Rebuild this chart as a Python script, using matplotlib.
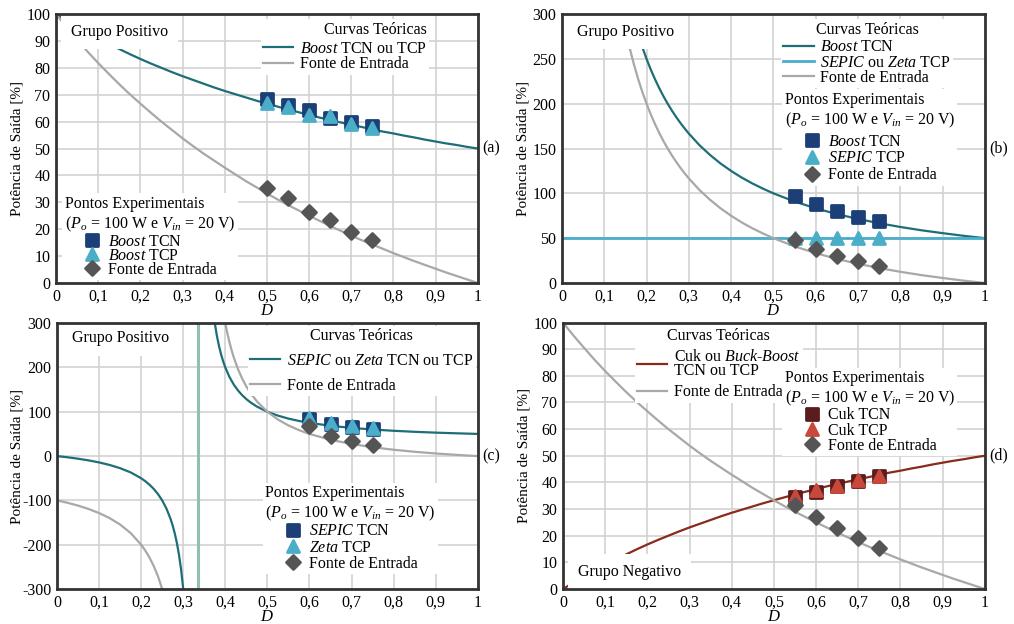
import matplotlib
matplotlib.use('Agg')
import matplotlib.pyplot as plt
from matplotlib.markers import MarkerStyle

plt.rcParams['font.family'] = ['Liberation Serif', 'DejaVu Serif']
plt.rcParams['mathtext.fontset'] = 'custom'
plt.rcParams['mathtext.rm'] = 'Liberation Serif'
plt.rcParams['mathtext.it'] = 'Liberation Serif:italic'
plt.rcParams['axes.unicode_minus'] = False
plt.rcParams['font.size'] = 11

# ---- Data ----
# duty cycle grid for the smooth curves of (a) and (d)
d_grid = [0.0, 0.025, 0.05, 0.075, 0.1, 0.125, 0.15, 0.175, 0.2, 0.225, 0.25,
          0.275, 0.3, 0.325, 0.35, 0.375, 0.4, 0.425, 0.45, 0.475, 0.5,
          0.525, 0.55, 0.575, 0.6, 0.625, 0.65, 0.675, 0.7, 0.725, 0.75,
          0.775, 0.8, 0.825, 0.85, 0.875, 0.9, 0.925, 0.95, 0.975, 1.0]

# (a) Boost
a_teo_boost = [100.0, 97.6, 95.2, 93.0, 90.9, 88.9, 87.0, 85.1, 83.3, 81.6, 80.0,
               78.4, 76.9, 75.5, 74.1, 72.7, 71.4, 70.2, 69.0, 67.8, 66.7,
               65.6, 64.5, 63.5, 62.5, 61.5, 60.6, 59.7, 58.8, 58.0, 57.1,
               56.3, 55.6, 54.8, 54.1, 53.3, 52.6, 51.9, 51.3, 50.6, 50.0]
a_teo_fonte = [100.0, 95.1, 90.5, 86.0, 81.8, 77.8, 73.9, 70.2, 66.7, 63.3, 60.0,
               56.9, 53.8, 50.9, 48.1, 45.5, 42.9, 40.4, 37.9, 35.6, 33.3,
               31.1, 29.0, 27.0, 25.0, 23.1, 21.2, 19.4, 17.6, 15.9, 14.3,
               12.7, 11.1, 9.6, 8.1, 6.7, 5.3, 3.9, 2.6, 1.3, 0.0]
a_d_exp = [0.5, 0.55, 0.6, 0.65, 0.7, 0.75]
a_boost_tcn = [68.5, 66.2, 64.2, 61.5, 59.8, 58.3]
a_boost_tcp = [67.0, 65.5, 62.5, 62.0, 59.2, 57.8]
a_fonte_exp = [35.3, 31.6, 26.4, 23.6, 18.9, 15.8]

# (b) Boost TCN vs SEPIC TCP
b_d = [0.15, 0.16, 0.17, 0.18, 0.19, 0.2, 0.21, 0.22, 0.23, 0.24, 0.25, 0.26,
       0.27, 0.28, 0.29, 0.3, 0.325, 0.35, 0.375, 0.4, 0.425, 0.45, 0.475, 0.5,
       0.55, 0.6, 0.65, 0.7, 0.75, 0.8, 0.85, 0.9, 0.95, 1.0]
b_teo_boost = [333.3, 312.5, 294.1, 277.8, 263.2, 250, 238.1, 227.3, 217.4, 208.3,
               200, 192.3, 185.2, 178.6, 172.4, 166.7, 153.8, 142.9, 133.3, 125,
               117.6, 111.1, 105.3, 100, 90.9, 83.3, 76.9, 71.4, 66.7, 62.5, 58.8,
               55.6, 52.6, 50]
b_teo_fonte = [283.3, 262.5, 244.1, 227.8, 213.2, 200, 188.1, 177.3, 167.4, 158.3,
               150, 142.3, 135.2, 128.6, 122.4, 116.7, 103.8, 92.9, 83.3, 75,
               67.6, 61.1, 55.3, 50, 40.9, 33.3, 26.9, 21.4, 16.7, 12.5, 8.8,
               5.6, 2.6, 0]
b_d_sepic = [0.0, 1.0]
b_teo_sepic = [50, 50]
b_d_exp = [0.55, 0.6, 0.65, 0.7, 0.75]
b_boost_tcn = [97, 88, 80, 74, 69]
b_sepic_tcp = [50.5, 50.5, 50.3, 50.5, 50.5]
b_fonte_exp = [48, 38, 30, 24, 19]

# (c) SEPIC / Zeta (two branches around the pole)
c_pole = 0.335
c_d_left = [0.0, 0.025, 0.05, 0.075, 0.1, 0.125, 0.15, 0.175, 0.2, 0.21, 0.22,
            0.23, 0.24, 0.25, 0.26, 0.27, 0.275, 0.28, 0.285, 0.29, 0.295, 0.3]
c_teo_left = [0, -2.7, -5.9, -9.7, -14.3, -20, -27.3, -36.8, -50, -56.8, -64.7,
              -74.2, -85.7, -100, -118.2, -142.1, -157.1, -175, -196.6, -223.1,
              -256.5, -300]
c_d_right = [0.375, 0.38, 0.385, 0.39, 0.395, 0.4, 0.41, 0.42, 0.43, 0.44, 0.45,
             0.46, 0.475, 0.5, 0.525, 0.55, 0.575, 0.6, 0.65, 0.7, 0.75, 0.8,
             0.85, 0.9, 0.95, 1.0]
c_teo_right = [300, 271.4, 248.4, 229.4, 213.5, 200, 178.3, 161.5, 148.3, 137.5,
               128.6, 121.1, 111.8, 100, 91.3, 84.6, 79.3, 75, 68.4, 63.6, 60,
               57.1, 54.8, 52.9, 51.4, 50]
c_df_left = [0.0, 0.025, 0.05, 0.075, 0.1, 0.125, 0.15, 0.175, 0.2, 0.21, 0.22,
             0.23, 0.24, 0.25]
c_fonte_left = [-100, -105.4, -111.8, -119.4, -128.6, -140, -154.5, -173.7, -200,
                -213.5, -229.4, -248.4, -271.4, -300]
c_df_right = [0.4, 0.405, 0.41, 0.415, 0.42, 0.43, 0.44, 0.45, 0.46, 0.475, 0.5,
              0.525, 0.55, 0.575, 0.6, 0.65, 0.7, 0.75, 0.8, 0.85, 0.9, 0.95, 1.0]
c_fonte_right = [300, 276.7, 256.5, 238.8, 223.1, 196.6, 175, 157.1, 142.1, 123.5,
                 100, 82.6, 69.2, 58.6, 50, 36.8, 27.3, 20, 14.3, 9.7, 5.9, 2.7, 0]
c_d_exp = [0.6, 0.65, 0.7, 0.75]
c_sepic_tcn = [83, 72, 66, 62]
c_zeta_tcp = [85, 74, 67, 64]
c_fonte_exp = [67, 45, 33, 24]

# (d) Cuk / Buck-Boost
d_teo_cuk = [0.0, 2.4, 4.8, 7.0, 9.1, 11.1, 13.0, 14.9, 16.7, 18.4, 20.0,
             21.6, 23.1, 24.5, 25.9, 27.3, 28.6, 29.8, 31.0, 32.2, 33.3,
             34.4, 35.5, 36.5, 37.5, 38.5, 39.4, 40.3, 41.2, 42.0, 42.9,
             43.7, 44.4, 45.2, 45.9, 46.7, 47.4, 48.1, 48.7, 49.4, 50.0]
d_teo_fonte = a_teo_fonte
d_d_exp = [0.55, 0.6, 0.65, 0.7, 0.75]
d_cuk_tcn = [34.5, 36.5, 38.5, 40.5, 42.3]
d_cuk_tcp = [35.0, 37.0, 38.8, 40.8, 42.5]
d_fonte_exp = [31.5, 27.0, 23.0, 19.0, 15.5]

x_ticks = [0, 0.1, 0.2, 0.3, 0.4, 0.5, 0.6, 0.7, 0.8, 0.9, 1.0]
x_labels = ['0', '0,1', '0,2', '0,3', '0,4', '0,5', '0,6', '0,7', '0,8', '0,9', '1']

# ---- Styles ----
TEAL = '#1e6e78'
LBLUE = '#4aaec8'
NAVY = '#1c3f78'
GRAYL = '#a8a8a8'
GRAYM = '#555555'
BROWN = '#8a2a1a'
DBROWN = '#5a1c1c'
RED = '#c8483c'
LW = 1.6
PTITLE = 'Pontos Experimentais\n($P_o$ = 100 W e $V_{in}$ = 20 V)'

sq = MarkerStyle('s', joinstyle='round')
tri = MarkerStyle('^', joinstyle='round')
dia = MarkerStyle('D', joinstyle='round')


def base(ax, ylim, yticks, tag, ylpad=2):
    ax.set_xlim(0, 1)
    ax.set_ylim(*ylim)
    ax.set_xticks(x_ticks)
    ax.set_xticklabels(x_labels)
    ax.set_yticks(yticks)
    ax.grid(True, color='#d2d2d2', linewidth=1.2, zorder=0)
    ax.set_axisbelow(True)
    ax.tick_params(length=0, pad=4, labelsize=11.5)
    for s in ax.spines.values():
        s.set_linewidth(2.0)
        s.set_color('#333333')
        s.set_zorder(10)
    ax.set_ylabel('Potência de Saída [%]', fontsize=11, labelpad=ylpad)
    ax.set_xlabel('$D$', fontsize=12, labelpad=-1)
    ax.text(1.01, 0.5, tag, transform=ax.transAxes, ha='left', va='center', fontsize=11.5)


def grupo(ax, txt, y):
    ax.text(0.035, y, txt, transform=ax.transAxes, ha='left', va='center', fontsize=11.5,
            zorder=6, bbox=dict(fc='white', ec='none', pad=7))


def pts(ax, x, y, marker, color, ms, label):
    ax.plot(x, y, linestyle='none', marker=marker, ms=ms, color=color, mec=color,
            mew=2.0, zorder=5, label=label)


def leg(ax, handles, title, loc, anchor, spacing=0.0, hl=1.9, tsep=None, align='center'):
    lg = ax.legend(handles=handles, title=title, loc=loc, bbox_to_anchor=anchor,
                   frameon=True, fancybox=False, framealpha=1, facecolor='white',
                   edgecolor='none', fontsize=11.5, title_fontsize=11.5,
                   labelspacing=spacing, handlelength=hl, handletextpad=0.4,
                   borderpad=0.15, borderaxespad=0, alignment=align)
    if tsep is not None:
        lg._legend_box.sep = tsep * 11.5
    lg.set_zorder(4.5)
    return lg


fig = plt.figure(figsize=(10.14, 6.24), dpi=100)
ax_a = fig.add_axes([0.0552, 0.5465, 0.416, 0.431])
ax_b = fig.add_axes([0.5542, 0.5465, 0.417, 0.431])
ax_c = fig.add_axes([0.0562, 0.0561, 0.415, 0.426])
ax_d = fig.add_axes([0.5552, 0.0561, 0.416, 0.427])

# (a)
base(ax_a, (0, 100), range(0, 101, 10), '(a)')
la1, = ax_a.plot(d_grid, a_teo_boost, color=TEAL, lw=LW, zorder=3,
                 label='$\\mathit{Boost}$ TCN ou TCP')
la2, = ax_a.plot(d_grid, a_teo_fonte, color=GRAYL, lw=LW, zorder=3, label='Fonte de Entrada')
pts(ax_a, a_d_exp, a_boost_tcn, sq, NAVY, 9, '$\\mathit{Boost}$ TCN')
pts(ax_a, a_d_exp, a_boost_tcp, tri, LBLUE, 9, '$\\mathit{Boost}$ TCP')
pts(ax_a, a_d_exp, a_fonte_exp, dia, GRAYM, 7, 'Fonte de Entrada')
h = ax_a.get_lines()
l1 = leg(ax_a, [la1, la2], 'Curvas Teóricas', 'upper right', (0.885, 0.98),
         spacing=-0.05, tsep=0.2, align='right')
ax_a.add_artist(l1)
leg(ax_a, h[2:], PTITLE, 'lower left', (0.015, 0.01), spacing=-0.12, hl=1.2, tsep=0.0)
grupo(ax_a, 'Grupo Positivo', 0.935)

# (b)
base(ax_b, (0, 300), range(0, 301, 50), '(b)')
lb1, = ax_b.plot(b_d, b_teo_boost, color=TEAL, lw=LW, zorder=3, label='$\\mathit{Boost}$ TCN')
lb2, = ax_b.plot(b_d_sepic, b_teo_sepic, color=LBLUE, lw=2.0, zorder=3,
                 label='$\\mathit{SEPIC}$ ou $\\mathit{Zeta}$ TCP')
lb3, = ax_b.plot(b_d, b_teo_fonte, color=GRAYL, lw=LW, zorder=3, label='Fonte de Entrada')
pts(ax_b, b_d_exp, b_boost_tcn, sq, NAVY, 9, '$\\mathit{Boost}$ TCN')
pts(ax_b, b_d_exp, b_sepic_tcp, tri, LBLUE, 9, '$\\mathit{SEPIC}$ TCP')
pts(ax_b, b_d_exp, b_fonte_exp, dia, GRAYM, 7, 'Fonte de Entrada')
h = ax_b.get_lines()
l1 = leg(ax_b, [lb1, lb2, lb3], 'Curvas Teóricas', 'upper right', (0.925, 0.98),
         spacing=-0.05, tsep=0.1)
ax_b.add_artist(l1)
leg(ax_b, h[3:], PTITLE, 'upper right', (0.935, 0.72), spacing=0.05, hl=1.2, tsep=0.25)
grupo(ax_b, 'Grupo Positivo', 0.935)

# (c)
base(ax_c, (-300, 300), range(-300, 301, 100), '(c)', ylpad=-1)
ax_c.axvline(c_pole, color='#8fc0b0', lw=2.2, zorder=2)
lc1, = ax_c.plot(c_d_left, c_teo_left, color=TEAL, lw=LW, zorder=3,
                 label='$\\mathit{SEPIC}$ ou $\\mathit{Zeta}$ TCN ou TCP')
ax_c.plot(c_d_right, c_teo_right, color=TEAL, lw=LW, zorder=3)
lc2, = ax_c.plot(c_df_left, c_fonte_left, color=GRAYL, lw=LW, zorder=3, label='Fonte de Entrada')
ax_c.plot(c_df_right, c_fonte_right, color=GRAYL, lw=LW, zorder=3)
pts(ax_c, c_d_exp, c_sepic_tcn, sq, NAVY, 9, '$\\mathit{SEPIC}$ TCN')
pts(ax_c, c_d_exp, c_zeta_tcp, tri, LBLUE, 9, '$\\mathit{Zeta}$ TCP')
pts(ax_c, c_d_exp, c_fonte_exp, dia, GRAYM, 7, 'Fonte de Entrada')
h = ax_c.get_lines()
l1 = leg(ax_c, [lc1, lc2], 'Curvas Teóricas', 'upper right', (0.995, 0.99), spacing=0.55)
ax_c.add_artist(l1)
leg(ax_c, h[5:], PTITLE, 'upper right', (0.905, 0.4), spacing=0.02, hl=1.2)
grupo(ax_c, 'Grupo Positivo', 0.945)

# (d)
base(ax_d, (0, 100), range(0, 101, 10), '(d)')
ld1, = ax_d.plot(d_grid, d_teo_cuk, color=BROWN, lw=LW, zorder=3,
                 label='Cuk ou $\\mathit{Buck}$-$\\mathit{Boost}$\nTCN ou TCP')
ld2, = ax_d.plot(d_grid, d_teo_fonte, color=GRAYL, lw=LW, zorder=3, label='Fonte de Entrada')
pts(ax_d, d_d_exp, d_cuk_tcn, sq, DBROWN, 9, 'Cuk TCN')
pts(ax_d, d_d_exp, d_cuk_tcp, tri, RED, 9, 'Cuk TCP')
pts(ax_d, d_d_exp, d_fonte_exp, dia, GRAYM, 7, 'Fonte de Entrada')
h = ax_d.get_lines()
l1 = leg(ax_d, [ld1, ld2], 'Curvas Teóricas', 'upper left', (0.17, 0.99), spacing=0.35)
for t in l1.get_texts():
    t.set_linespacing(0.8)
ax_d.add_artist(l1)
leg(ax_d, h[2:], PTITLE, 'upper right', (0.935, 0.83), spacing=-0.05, hl=1.2, tsep=-0.05)
ax_d.text(0.035, 0.065, 'Grupo Negativo', transform=ax_d.transAxes, ha='left', va='center',
          fontsize=11.5, zorder=6, bbox=dict(fc='white', ec='none', pad=7))

fig.savefig('out.png', dpi=100)
